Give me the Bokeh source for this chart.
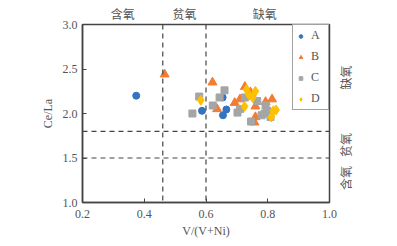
from bokeh.plotting import figure
from bokeh.models import Span, Legend, LegendItem, FixedTicker, PrintfTickFormatter, LinearAxis
from bokeh.embed import file_html
from bokeh.resources import INLINE

# ---- data ----
a_x = [0.374, 0.587, 0.654, 0.666, 0.655]
a_y = [2.20, 2.03, 2.18, 2.045, 1.98]

b_x = [0.466, 0.621, 0.636, 0.693, 0.710, 0.726, 0.744, 0.760, 0.760, 0.757, 0.793, 0.814]
b_y = [2.44, 2.35, 2.05, 2.12, 2.16, 2.30, 2.24, 2.08, 1.96, 1.90, 2.13, 2.16]

c_x = [0.556, 0.578, 0.622, 0.644, 0.660, 0.702, 0.710, 0.726, 0.746, 0.750, 0.766, 0.780, 0.790, 0.793, 0.798, 0.809]
c_y = [2.00, 2.19, 2.09, 2.18, 2.26, 2.01, 2.05, 2.18, 1.91, 2.20, 2.14, 1.98, 2.00, 2.09, 2.03, 1.96]

d_x = [0.583, 0.725, 0.731, 0.739, 0.751, 0.760, 0.811, 0.818, 0.827]
d_y = [2.15, 2.08, 2.27, 2.21, 2.18, 2.25, 1.96, 2.03, 2.04]

series_names = ["A", "B", "C", "D"]
x_ticks = [0.2, 0.4, 0.6, 0.8, 1.0]
y_ticks = [1.0, 1.5, 2.0, 2.5, 3.0]
v_bounds = [0.46, 0.60]
ce_bounds = [1.8, 1.5]
top_labels = ["含氧", "贫氧", "缺氧"]
top_label_x = [0.33, 0.53, 0.79]
right_labels = ["缺氧", "贫氧", "含氧"]
right_label_y = [2.27, 1.51, 1.14]   # lower end of each rotated label

colors = ["#3572C0", "#F47B30", "#A5A5A5", "#FFC000"]
serif = "Liberation Serif"
cjk = "Noto Sans CJK SC"
text_col = "#555555"
frame_col = "#444444"

p = figure(width=397, height=246, x_range=(0.2, 1.0), y_range=(1.0, 3.0),
           output_backend="svg", toolbar_location=None,
           min_border_left=82, min_border_right=68, min_border_top=24, min_border_bottom=44)
p.grid.visible = False
p.outline_line_color = frame_col
p.outline_line_width = 1.5
p.background_fill_color = "white"
p.border_fill_color = "white"

for ax in (p.xaxis[0], p.yaxis[0]):
    ax.axis_line_color = frame_col
    ax.axis_line_width = 1.5
    ax.major_tick_in = 4
    ax.major_tick_out = 0
    ax.major_tick_line_color = frame_col
    ax.minor_tick_line_color = None
    ax.major_label_text_font = serif
    ax.major_label_text_font_size = "12px"
    ax.major_label_text_color = text_col
    ax.axis_label_text_font = serif
    ax.axis_label_text_font_size = "12px"
    ax.axis_label_text_font_style = "normal"
    ax.axis_label_text_color = text_col
    ax.formatter = PrintfTickFormatter(format="%.1f")

p.xaxis[0].ticker = FixedTicker(ticks=x_ticks)
p.yaxis[0].ticker = FixedTicker(ticks=y_ticks)
p.xaxis[0].axis_label = "V/(V+Ni)"
p.yaxis[0].axis_label = "Ce/La"
p.xaxis[0].major_label_standoff = 7
p.xaxis[0].axis_label_standoff = 3
p.yaxis[0].major_label_standoff = 5
p.yaxis[0].axis_label_standoff = 5

# region labels as extra axes (top and right)
top_ax = LinearAxis(ticker=FixedTicker(ticks=top_label_x),
                    major_label_overrides={x: t for x, t in zip(top_label_x, top_labels)},
                    axis_line_color=None, major_tick_line_color=None, minor_tick_line_color=None,
                    major_tick_in=0, major_tick_out=0,
                    major_label_text_font=cjk, major_label_text_font_size="12px",
                    major_label_text_color=text_col, major_label_standoff=3)
p.add_layout(top_ax, "above")
right_ax = LinearAxis(ticker=FixedTicker(ticks=right_label_y),
                      major_label_overrides={y: t for y, t in zip(right_label_y, right_labels)},
                      axis_line_color=None, major_tick_line_color=None, minor_tick_line_color=None,
                      major_tick_in=0, major_tick_out=0,
                      major_label_text_font=cjk, major_label_text_font_size="12px",
                      major_label_text_color=text_col, major_label_standoff=16,
                      major_label_orientation=1.5708)
p.add_layout(right_ax, "right")

for v in v_bounds:
    p.add_layout(Span(location=v, dimension="height", line_color=frame_col,
                      line_width=1.2, line_dash="5 4"))
for h in ce_bounds:
    p.add_layout(Span(location=h, dimension="width", line_color=frame_col,
                      line_width=1.2, line_dash="5 4"))

r_a = p.scatter(a_x, a_y, marker="circle", size=7, color=colors[0])
r_b = p.scatter(b_x, b_y, marker="triangle", size=9, color=colors[1])
r_c = p.scatter(c_x, c_y, marker="square", size=7, color=colors[2])
r_d = p.scatter(d_x, d_y, marker="diamond", size=10, color=colors[3])

legend = Legend(items=[LegendItem(label=n, renderers=[r]) for n, r in
                       zip(series_names, [r_a, r_b, r_c, r_d])],
                location="top_right", margin=0, padding=3, spacing=6,
                glyph_width=9, glyph_height=12, label_standoff=6,
                label_text_font=serif, label_text_font_size="12px",
                label_text_color=text_col, label_height=12, label_width=14,
                border_line_color=frame_col, border_line_width=1.5,
                background_fill_alpha=1.0)
p.add_layout(legend)

open("out.html", "w").write(file_html(p, INLINE))
